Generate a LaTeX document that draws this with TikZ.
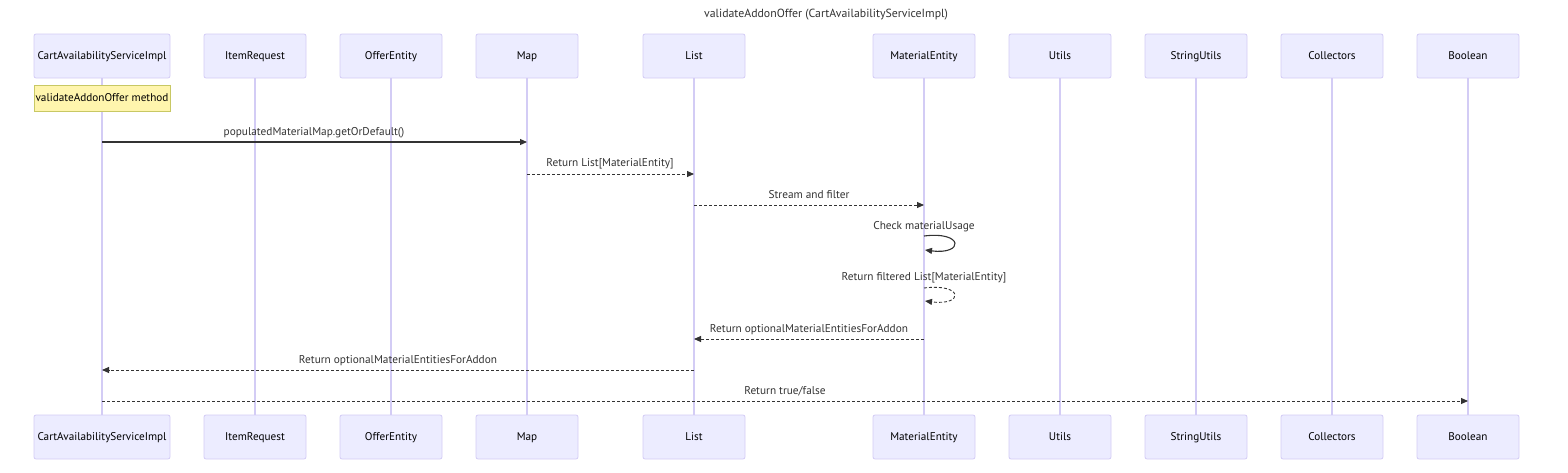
\documentclass[tikz,border=0pt]{standalone}
\usepackage{fontspec}
\setmainfont{PT Sans}
\usetikzlibrary{arrows.meta,calc}
\definecolor{actfill}{HTML}{ECECFF}
\definecolor{actdraw}{HTML}{D3CCF5}
\definecolor{lifeln}{HTML}{D3CCF5}
\definecolor{notefill}{HTML}{FFF5AD}
\definecolor{notedraw}{HTML}{C8C864}
\definecolor{msgcol}{HTML}{333333}
\tikzset{
  actor/.style={draw=actdraw, fill=actfill, rounded corners=2pt, minimum width=102pt, minimum height=44pt, inner sep=0pt, text height=8.5pt, text depth=1.5pt, font=\fontsize{11.2}{13}\selectfont, text=black, line width=0.8pt},
  wideactor/.style={actor, minimum width=136pt},
  lifeline/.style={draw=lifeln, line width=1.2pt},
  notebox/.style={draw=notedraw, fill=notefill, minimum width=136pt, minimum height=26pt, inner sep=0pt, text height=8.5pt, text depth=1.5pt, font=\fontsize{11.2}{13}\selectfont},
  msg/.style={draw=msgcol, line width=1.1pt, -{Triangle[length=7pt,width=6pt]}},
  reply/.style={msg, line width=0.9pt, dash pattern=on 3pt off 2pt},
  msglabel/.style={font=\fontsize{11.3}{13}\selectfont, text=msgcol, inner sep=0pt, anchor=base},
}
\begin{document}
\begin{tikzpicture}[x=1pt,y=-1pt]
\useasboundingbox (0,0) rectangle (1568,472);
\node[msglabel, font=\fontsize{11.8}{13}\selectfont] (title) at (826,17) {validateAddonOffer (CartAvailabilityServiceImpl)};
% actors top
\node[wideactor] (a1) at (102,56) {CartAvailabilityServiceImpl};
\node[actor] (a2) at (255,56) {ItemRequest};
\node[actor] (a3) at (391,56) {OfferEntity};
\node[actor] (a4) at (527,56) {Map};
\node[actor] (a5) at (694,56) {List};
\node[actor] (a6) at (924,56) {MaterialEntity};
\node[actor] (a7) at (1060,56) {Utils};
\node[actor] (a8) at (1196,56) {StringUtils};
\node[actor] (a9) at (1332,56) {Collectors};
\node[actor] (a10) at (1468,56) {Boolean};
% actors bottom
\node[wideactor] (b1) at (102,437) {CartAvailabilityServiceImpl};
\node[actor] (b2) at (255,437) {ItemRequest};
\node[actor] (b3) at (391,437) {OfferEntity};
\node[actor] (b4) at (527,437) {Map};
\node[actor] (b5) at (694,437) {List};
\node[actor] (b6) at (924,437) {MaterialEntity};
\node[actor] (b7) at (1060,437) {Utils};
\node[actor] (b8) at (1196,437) {StringUtils};
\node[actor] (b9) at (1332,437) {Collectors};
\node[actor] (b10) at (1468,437) {Boolean};
% lifelines
\foreach \i in {1,...,10} {
  \draw[lifeline] (a\i.south) -- (b\i.north);
}
% note
\node[notebox] (note) at (102,98) {validateAddonOffer method};
% message coordinates
\coordinate (m1s) at (102,142); \coordinate (m1e) at (527,142);
\coordinate (m2s) at (527,174); \coordinate (m2e) at (694,174);
\coordinate (m3s) at (694,205); \coordinate (m3e) at (924,205);
\coordinate (m4s) at (924,236); \coordinate (m4e) at (925,250);
\coordinate (m5s) at (924,288); \coordinate (m5e) at (925,301);
\coordinate (m6s) at (924,339); \coordinate (m6e) at (694,339);
\coordinate (m7s) at (694,370); \coordinate (m7e) at (102,370);
\coordinate (m8s) at (102,401); \coordinate (m8e) at (1468,401);
% messages
\draw[msg] (m1s) -- (m1e);
\node[msglabel] (l1) at (314,135) {populatedMaterialMap.getOrDefault()};
\draw[reply] (m2s) -- (m2e);
\node[msglabel] (l2) at (610,166) {Return List[MaterialEntity]};
\draw[reply] (m3s) -- (m3e);
\node[msglabel] (l3) at (809,198) {Stream and filter};
\draw[msg] (m4s) .. controls (964,231) and (964,255) .. (m4e);
\node[msglabel] (l4) at (924,229) {Check materialUsage};
\draw[reply] (m5s) .. controls (964,283) and (964,306) .. (m5e);
\node[msglabel] (l5) at (924,280) {Return filtered List[MaterialEntity]};
\draw[reply] (m6s) -- (m6e);
\node[msglabel] (l6) at (809,332) {Return optionalMaterialEntitiesForAddon};
\draw[reply] (m7s) -- (m7e);
\node[msglabel] (l7) at (398,363) {Return optionalMaterialEntitiesForAddon};
\draw[reply] (m8s) -- (m8e);
\node[msglabel] (l8) at (785,394) {Return true/false};
\end{tikzpicture}
\end{document}
